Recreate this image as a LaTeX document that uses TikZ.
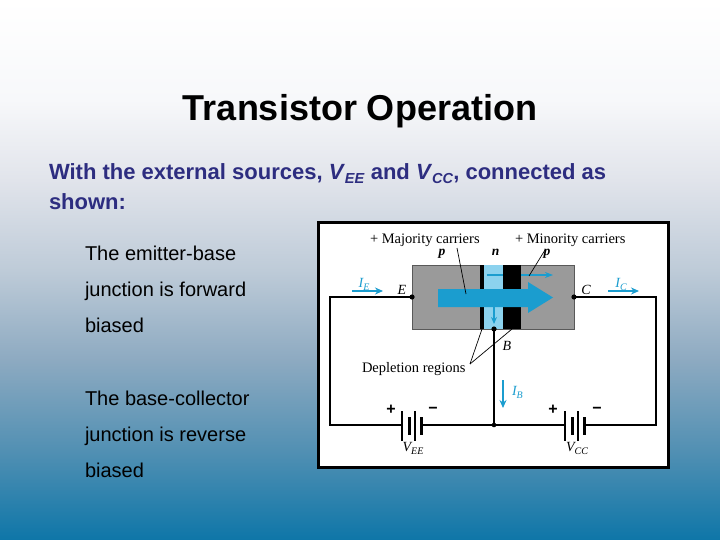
\documentclass[tikz,border=0pt]{standalone}
\usepackage{fontspec}
\setmainfont{Liberation Sans}
\newfontfamily\dfont{Liberation Serif}
\usetikzlibrary{arrows.meta}

\definecolor{navy}{HTML}{2D2D80}
\definecolor{graybox}{HTML}{9A9A9A}
\definecolor{nreg}{HTML}{8CD2EE}
\definecolor{cyanarr}{HTML}{1B9DCF}
\definecolor{bga}{HTML}{0E76A8}
\definecolor{bgb}{HTML}{5290B3}
\definecolor{bgc}{HTML}{8DAAC1}
\definecolor{bgd}{HTML}{BECBD8}
\definecolor{bge}{HTML}{E1E4EB}
\definecolor{bgf}{HTML}{F7F8FA}

\pgfdeclareverticalshading{slidebg}{100bp}{color(0bp)=(bga); color(25bp)=(bga); color(33.33bp)=(bgb); color(41.67bp)=(bgc); color(50bp)=(bgd); color(58.33bp)=(bge); color(65.74bp)=(bgf); color(75bp)=(white); color(100bp)=(white)}

\newcommand{\bsub}[1]{\raisebox{-4pt}{\fontsize{14.5}{14.5}\selectfont #1}}
\newcommand{\dsub}[1]{\raisebox{-3pt}{\fontsize{10}{10}\selectfont #1}}

\begin{document}
\begin{tikzpicture}[x=1pt,y=-1pt,
  txt/.style={inner sep=0pt, outer sep=0pt},
  body/.style={txt, anchor=base west, font=\fontsize{22}{26}\selectfont\bfseries, text=navy},
  bullet/.style={txt, anchor=base west, font=\fontsize{20}{24}\selectfont, text=black},
  dlab/.style={txt, font=\dfont\fontsize{14.5}{16}\selectfont},
  ilab/.style={txt, font=\dfont\fontsize{14}{16}\selectfont\itshape, text=cyanarr},
  pm/.style={txt, font=\fontsize{16}{16}\selectfont\bfseries},
  wire/.style={line width=1.1pt, black},
  cur/.style={line width=1.8pt, cyanarr, -{Stealth[length=8pt,width=7pt]}},
  thinplate/.style={line width=1.1pt},
  thickplate/.style={line width=3pt},
  leader/.style={line width=0.7pt, black}
]
\useasboundingbox (0,0) rectangle (720,540);
\shade[shading=slidebg] (0,0) rectangle (720,540);

% texts
\node[txt, anchor=base, font=\fontsize{36}{40}\selectfont\bfseries] (title) at (360,121) {Transistor Operation};
\node[body] (l1) at (49,180) {With the external sources, \textit{V}\bsub{\textit{EE}} and \textit{V}\bsub{\textit{CC}}, connected as};
\node[body] (l2) at (49,210) {shown:};
\node[bullet] (b1) at (85,260) {The emitter-base};
\node[bullet] (b2) at (85,296) {junction is forward};
\node[bullet] (b3) at (85,332) {biased};
\node[bullet] (b4) at (85,405) {The base-collector};
\node[bullet] (b5) at (85,441) {junction is reverse};
\node[bullet] (b6) at (85,477) {biased};

% frame
\draw[fill=white, line width=2.5pt] (318.5,222.5) rectangle (668.5,467.5);

% coordinates
\coordinate (E) at (412,297);
\coordinate (C) at (574,297);
\coordinate (B) at (494,329);
\coordinate (J) at (494,425);
\coordinate (LT) at (330,297);
\coordinate (LB) at (330,425);
\coordinate (RT) at (656,297);
\coordinate (RB) at (656,425);
\coordinate (ee1) at (402,425);
\coordinate (ee2) at (422,425);
\coordinate (cc1) at (565,425);
\coordinate (cc2) at (585,425);

% wires
\draw[wire] (E) -- (LT) -- (LB) -- (ee1);
\draw[wire] (ee2) -- (J) -- (cc1);
\draw[wire] (cc2) -- (RB) -- (RT) -- (C);
\draw[wire] (B) -- (J);

% batteries
\draw[thinplate] (402,411) -- (402,441);
\draw[thickplate] (409,417) -- (409,435);
\draw[thinplate] (415,411) -- (415,441);
\draw[thickplate] (421.5,417) -- (421.5,435);
\draw[thinplate] (565,411) -- (565,441);
\draw[thickplate] (572,417) -- (572,435);
\draw[thinplate] (578,411) -- (578,441);
\draw[thickplate] (584.5,417) -- (584.5,435);
\node[pm] (p1) at (391,410) {+};
\node[pm] (m1) at (433,410) {−};
\node[pm] (p2) at (553,410) {+};
\node[pm] (m2) at (597,410) {−};
\node[dlab, anchor=base, font=\dfont\fontsize{14}{16}\selectfont\itshape] (vee) at (413,451) {V\dsub{EE}};
\node[dlab, anchor=base, font=\dfont\fontsize{14}{16}\selectfont\itshape] (vcc) at (577,451) {V\dsub{CC}};

% transistor body
\draw[fill=graybox, draw=gray!70!black, line width=0.4pt] (412,265) rectangle (574,329);
\fill[nreg] (484,265) rectangle (503,329);
\draw[line width=1.4pt, cyanarr, -{Stealth[length=8pt,width=6pt]}] (487,275) -- (553,275);
\fill[black] (480,265) rectangle (484,329);
\fill[black] (503,265) rectangle (521,329);
\fill[cyanarr] (438,289) -- (528,289) -- (528,282) -- (553,297.5) -- (528,313) -- (528,307) -- (438,307) -- cycle;
\draw[line width=1.4pt, cyanarr, -{Stealth[length=7pt,width=6pt]}] (494,306) -- (494,324);

% dots
\fill (E) circle (2.6pt);
\fill (C) circle (2.6pt);
\fill (B) circle (2.6pt);
\fill (J) circle (2.3pt);

% leaders
\coordinate (dep) at (470,364);
\draw[leader] (457,248) -- (466,294);
\draw[leader] (545,250) -- (529,276);
\draw[leader] (dep) -- (482,329);
\draw[leader] (dep) -- (512,329);

% labels
\node[dlab, anchor=base west] (maj) at (370,243.5) {+ Majority carriers};
\node[dlab, anchor=base west] (min) at (515,243.5) {+ Minority carriers};
\node[dlab, anchor=base, font=\dfont\fontsize{13.5}{16}\selectfont\bfseries\itshape] (pe) at (442,255.5) {p};
\node[dlab, anchor=base, font=\dfont\fontsize{13.5}{16}\selectfont\bfseries\itshape] (nb) at (495.5,255.5) {n};
\node[dlab, anchor=base, font=\dfont\fontsize{13.5}{16}\selectfont\bfseries\itshape] (pc) at (547,255.5) {p};
\node[dlab, anchor=base, font=\dfont\fontsize{14}{16}\selectfont\itshape] (El) at (402,294) {E};
\node[dlab, anchor=base, font=\dfont\fontsize{14}{16}\selectfont\itshape] (Cl) at (586,294) {C};
\node[dlab, anchor=base, font=\dfont\fontsize{14}{16}\selectfont\itshape] (Bl) at (507,350) {B};
\node[dlab, anchor=base west] (depl) at (362,372) {Depletion regions};

% currents
\coordinate (ie1) at (352,291);
\coordinate (ie2) at (383,291);
\coordinate (ic1) at (608,291);
\coordinate (ic2) at (639,291);
\coordinate (ib1) at (503,380);
\coordinate (ib2) at (503,408);
\draw[cur] (ie1) -- (ie2);
\draw[cur] (ic1) -- (ic2);
\draw[cur] (ib1) -- (ib2);
\node[ilab, anchor=base] (IE) at (364,287) {I\dsub{E}};
\node[ilab, anchor=base] (IC) at (621,287) {I\dsub{C}};
\node[ilab, anchor=base west] (IB) at (512,395) {I\dsub{B}};
\end{tikzpicture}
\end{document}
